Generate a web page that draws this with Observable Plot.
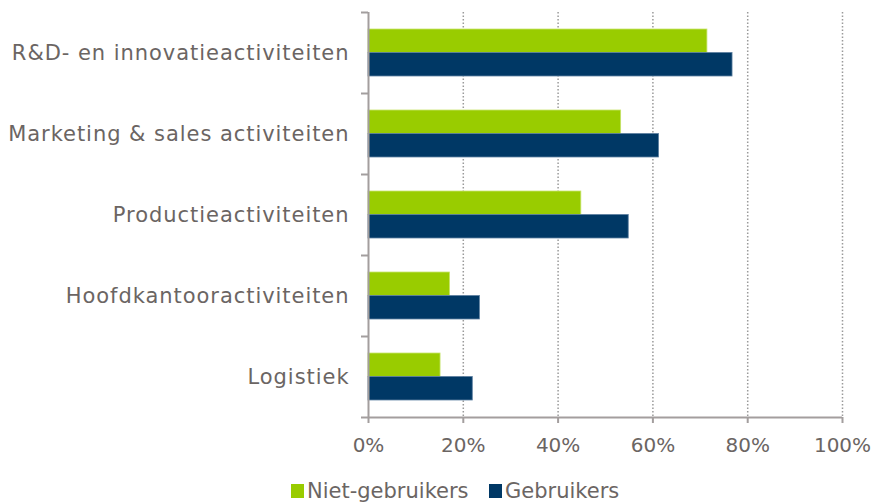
<!DOCTYPE html>
<html><head><meta charset="utf-8">
<script src="https://cdn.jsdelivr.net/npm/d3@7"></script>
<script src="https://cdn.jsdelivr.net/npm/@observablehq/plot@0.6"></script>
<style>
body{margin:0;background:#fff;font-family:"DejaVu Sans",Verdana,sans-serif;color:#6b6563;}
#legend{position:relative;height:30px;margin-top:14px;font-size:21px;line-height:24px;white-space:nowrap;}
#legend .item{position:absolute;top:0;display:flex;align-items:center;}
#legend .sw{width:13px;height:14px;margin-right:3px;}
</style></head><body>
<div id="chart"></div>
<div id="legend"></div>
<script>
const categories = ["R&D- en innovatieactiviteiten","Marketing & sales activiteiten","Productieactiviteiten","Hoofdkantooractiviteiten","Logistiek"];
const series = ["Niet-gebruikers","Gebruikers"];
const nietGebruikers = [71.5, 53.3, 44.9, 17.2, 15.2];
const gebruikers = [76.8, 61.3, 54.9, 23.5, 22.0];
const xTicks = [0, 20, 40, 60, 80, 100];
const colors = ["#99cc00", "#003865"];

const textColor = "#6b6563";
const axisColor = "#a39e9e";
const half = 0.29;

const rows = [];
categories.forEach((c, i) => {
  rows.push({cat: c, i, s: 0, series: series[0], value: nietGebruikers[i]});
  rows.push({cat: c, i, s: 1, series: series[1], value: gebruikers[i]});
});
const centers = categories.map((c, i) => i);
const bounds = d3.range(categories.length + 1).map(i => i - 0.5);

const chart = Plot.plot({
  width: 874,
  height: 465,
  marginLeft: 368,
  marginRight: 32,
  marginTop: 12,
  marginBottom: 48,
  style: {fontFamily: '"DejaVu Sans", Verdana, sans-serif', fontSize: "20px", color: textColor, background: "#fff"},
  x: {domain: [0, 100]},
  y: {domain: [-0.5, categories.length - 0.5], reverse: true},
  color: {domain: series, range: colors},
  marks: [
    Plot.ruleX(xTicks.slice(1), {stroke: "#9a9a9a", strokeWidth: 1.5, strokeDasharray: "1.5,2"}),
    Plot.rect(rows, {
      x1: 0, x2: "value",
      y1: d => d.s === 0 ? d.i - half : d.i,
      y2: d => d.s === 0 ? d.i : d.i + half,
      fill: "series",
      stroke: d => d.s === 0 ? "#c6e36a" : "#5c7fa0",
      strokeWidth: 0.8
    }),
    Plot.ruleX([0], {stroke: axisColor, strokeWidth: 2}),
    Plot.ruleY([categories.length - 0.5], {x1: 0, x2: 100, stroke: axisColor, strokeWidth: 2}),
    Plot.axisY({ticks: bounds, tickSize: 7, tickFormat: () => "", label: null, stroke: axisColor, strokeWidth: 2}),
    Plot.axisY({ticks: centers, tickSize: 0, tickPadding: 19, tickFormat: i => categories[i], label: null, fill: textColor, fontSize: 21}),
    Plot.axisX({ticks: xTicks, tickSize: 6, tickPadding: 14, tickFormat: d => d + "%", label: null, stroke: axisColor, strokeWidth: 2, fill: textColor, fontSize: 20})
  ]
});
d3.select(chart).selectAll('g[aria-label="y-axis tick label"] text').attr("letter-spacing", "0.95px");
document.getElementById("chart").appendChild(chart);

const legend = document.getElementById("legend");
const lx = [291, 489];
series.forEach((s, k) => {
  const it = document.createElement("div");
  it.className = "item";
  it.style.left = lx[k] + "px";
  const sw = document.createElement("span");
  sw.className = "sw";
  sw.style.background = colors[k];
  const t = document.createElement("span");
  t.textContent = s;
  it.appendChild(sw); it.appendChild(t);
  legend.appendChild(it);
});
</script>
</body></html>
